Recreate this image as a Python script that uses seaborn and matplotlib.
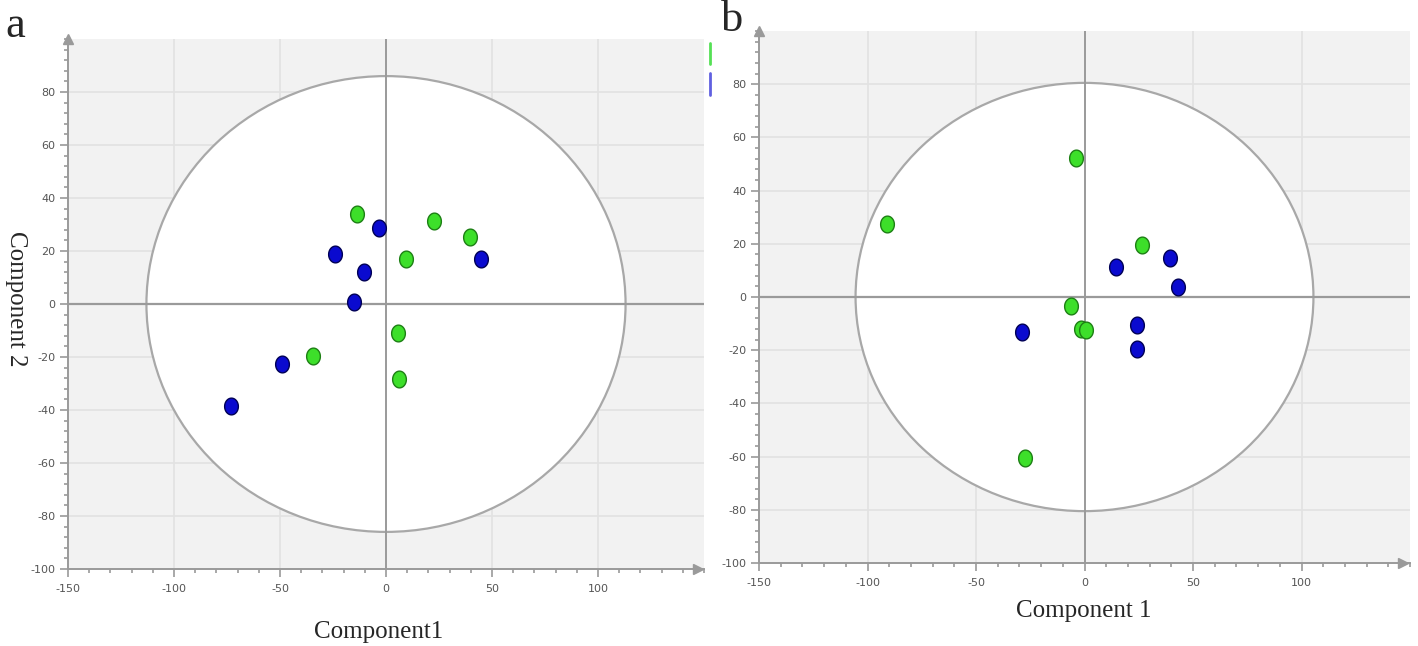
import numpy as np
import pandas as pd
import matplotlib
matplotlib.use("Agg")
import matplotlib.pyplot as plt
import seaborn as sns
from matplotlib.patches import Ellipse
from matplotlib.path import Path
from matplotlib.lines import Line2D
from matplotlib.ticker import MultipleLocator, FixedLocator

# ---------------- data ----------------
groups = ["Group G", "Group B"]
group_colors = {"Group G": "#3ddf2a", "Group B": "#0a0acf"}
group_edges = {"Group G": "#1d7f14", "Group B": "#000055"}

a_green_x = [-13.7, 22.6, 39.6, 9.4, -34.4, 5.7, 6.1]
a_green_y = [34.0, 31.3, 25.3, 17.0, -19.6, -10.9, -28.3]
a_blue_x = [-3.3, -24.0, -10.4, -15.0, 44.8, -49.0, -73.0]
a_blue_y = [28.7, 18.9, 12.1, 0.8, 17.0, -22.6, -38.5]

b_green_x = [-4.1, -91.2, 26.3, -6.0, -1.8, 0.5, -27.2]
b_green_y = [52.3, 27.4, 19.5, -3.4, -12.0, -12.4, -60.5]
b_blue_x = [14.3, 39.2, 43.3, -29.0, 24.4, 24.4]
b_blue_y = [11.3, 14.7, 3.8, -13.2, -10.5, -19.5]

# confidence ellipse semi-axes (component1, component2)
a_ellipse = (113.0, 86.0)
b_ellipse = (105.5, 80.5)

x_ticks = [-150, -100, -50, 0, 50, 100]
y_ticks = [-100, -80, -60, -40, -20, 0, 20, 40, 60, 80]
x_lim = (-150, 150)
y_lim = (-100, 100)

panel_labels = ["a", "b"]
x_titles = ["Component1", "Component 1"]
y_title = "Component 2"


def make_df(gx, gy, bx, by):
    return pd.DataFrame({
        "c1": list(gx) + list(bx),
        "c2": list(gy) + list(by),
        "group": [groups[0]] * len(gx) + [groups[1]] * len(bx),
    })


df_a = make_df(a_green_x, a_green_y, a_blue_x, a_blue_y)
df_b = make_df(b_green_x, b_green_y, b_blue_x, b_blue_y)

# ellipse-shaped (tall) marker
theta = np.linspace(0, 2 * np.pi, 60)
marker_path = Path(np.c_[0.41 * np.cos(theta), 0.5 * np.sin(theta)], closed=True)

sns.set_style("white")
serif = ["Liberation Serif", "DejaVu Serif"]

fig = plt.figure(figsize=(14.18, 6.46), dpi=100)
fig.patch.set_facecolor("white")

axes_pos = [
    [68 / 1418, (646 - 569) / 646, 636 / 1418, 530 / 646],
    [759 / 1418, (646 - 563) / 646, 651 / 1418, 532 / 646],
]

bg = "#f2f2f2"
grid_c = "#e2e2e2"
axis_c = "#9a9a9a"

for i, (df, ell) in enumerate([(df_a, a_ellipse), (df_b, b_ellipse)]):
    ax = fig.add_axes(axes_pos[i])
    ax.set_facecolor(bg)
    ax.set_xlim(*x_lim)
    ax.set_ylim(*y_lim)

    # background grid
    for xv in x_ticks[1:]:
        ax.axvline(xv, color=grid_c, lw=1.2, zorder=0)
    for yv in y_ticks[1:]:
        ax.axhline(yv, color=grid_c, lw=1.2, zorder=0)

    # confidence ellipse
    ax.add_patch(Ellipse((0, 0), 2 * ell[0], 2 * ell[1], facecolor="white",
                         edgecolor="#a8a8a8", lw=1.6, zorder=1))

    # zero lines
    ax.axvline(0, color=axis_c, lw=1.4, zorder=2)
    ax.axhline(0, color=axis_c, lw=1.6, zorder=2)

    for g in groups:
        sub = df[df["group"] == g]
        sns.scatterplot(data=sub, x="c1", y="c2", ax=ax, color=group_colors[g],
                        edgecolor=group_edges[g], linewidth=1.0, s=145,
                        marker=marker_path, zorder=3, legend=False)

    # spines
    for side in ["top", "right"]:
        ax.spines[side].set_visible(False)
    for side in ["left", "bottom"]:
        ax.spines[side].set_color(axis_c)
        ax.spines[side].set_linewidth(1.4)

    ax.xaxis.set_major_locator(FixedLocator(x_ticks))
    ax.yaxis.set_major_locator(FixedLocator(y_ticks))
    ax.xaxis.set_minor_locator(MultipleLocator(10))
    ax.yaxis.set_minor_locator(MultipleLocator(4))
    ax.tick_params(axis="both", which="both", bottom=True, left=True,
                   top=False, right=False)
    ax.tick_params(axis="both", which="major", direction="out", length=6,
                   width=1.2, color=axis_c, labelcolor="#555555", labelsize=8)
    ax.tick_params(axis="both", which="minor", direction="out", length=3,
                   width=1.2, color=axis_c)
    ax.tick_params(axis="x", which="major", pad=5)
    ax.tick_params(axis="y", which="major", pad=3)
    ax.set_xticklabels([str(t) for t in x_ticks])
    ax.set_yticklabels([str(t) for t in y_ticks])
    ax.set_xlabel("")
    ax.set_ylabel("")

    # axis arrows
    ax.plot([x_lim[0]], [y_lim[1]], marker="^", color=axis_c, markersize=7,
            clip_on=False, zorder=4)
    ax.plot([x_lim[1] - 3], [y_lim[0]], marker=">", color=axis_c, markersize=7,
            clip_on=False, zorder=4)

# panel labels and axis titles
fig.text(15 / 1418, 1 - 26 / 646, panel_labels[0], family=serif, fontsize=32,
         ha="center", va="center")
fig.text(732 / 1418, 1 - 20 / 646, panel_labels[1], family=serif, fontsize=32,
         ha="center", va="center")
fig.text(379 / 1418, 1 - 632 / 646, x_titles[0], family=serif, fontsize=18,
         ha="center", va="center")
fig.text(1084 / 1418, 1 - 611 / 646, x_titles[1], family=serif, fontsize=18,
         ha="center", va="center")
fig.text(16 / 1418, 1 - 299 / 646, y_title, family=serif, fontsize=18,
         ha="center", va="center", rotation=-90)

# truncated legend fragments at the panel edge
fig.add_artist(Line2D([710 / 1418, 710 / 1418], [1 - 43 / 646, 1 - 64 / 646],
                      color="#55e055", lw=2))
fig.add_artist(Line2D([710 / 1418, 710 / 1418], [1 - 73 / 646, 1 - 95 / 646],
                      color="#6060e0", lw=2))

fig.savefig("out.png", dpi=100)
